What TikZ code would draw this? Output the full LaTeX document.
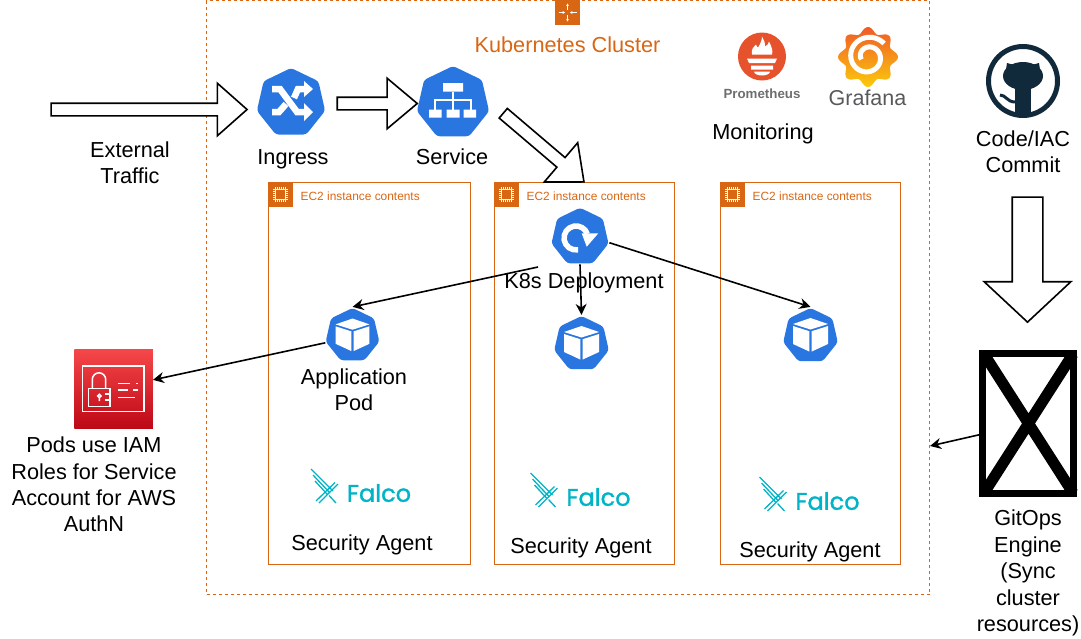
\documentclass[tikz,border=0pt]{standalone}
\usepackage{fontspec}
\setmainfont{Liberation Sans}
\newfontfamily\falcofont[FakeBold=1.3]{Poppins}
\usetikzlibrary{shapes.geometric,shapes.arrows,arrows.meta}
\definecolor{awsorange}{HTML}{D86613}
\definecolor{k8sblue}{HTML}{2A76E0}
\definecolor{falcoteal}{HTML}{00B4C8}
\definecolor{ghnavy}{HTML}{10293B}
\definecolor{promorange}{HTML}{E6522C}
\definecolor{promgray}{HTML}{6D6E70}
\definecolor{grafanatop}{HTML}{F05A28}
\definecolor{grafanabottom}{HTML}{FBCA0A}
\definecolor{grafanagray}{HTML}{58595B}
\definecolor{iamtop}{HTML}{F54749}
\definecolor{iambottom}{HTML}{BD0816}
\newcommand{\bigtext}{\fontsize{21.7}{26.4}\selectfont}
\tikzset{
  label/.style={align=center,font=\bigtext,inner sep=0pt},
  cluster/.style={draw=awsorange,dashed,dash pattern=on 3pt off 3pt,line width=1pt,anchor=north west,inner sep=0pt},
  ec2box/.style={draw=awsorange,line width=1.3pt,anchor=north west,inner sep=0pt},
  ec2label/.style={text=awsorange,font=\fontsize{11.9}{14}\selectfont,anchor=west,inner sep=0pt},
  k8s/.style={regular polygon,regular polygon sides=7,fill=k8sblue,inner sep=0pt,outer sep=1pt,rounded corners=3pt},
  falco/.style={text=falcoteal,font=\falcofont\fontsize{24}{30}\selectfont,inner sep=0pt},
  flow/.style={-{Stealth[length=11pt,width=11pt]},line width=1.6pt},
  blockarrow/.style={single arrow,draw=black,fill=white,line width=1.6pt,inner xsep=0pt,inner ysep=5.5pt,single arrow head indent=0pt},
  cubeglyph/.pic={
    \fill[white] (0,-18) -- (17.5,-12) -- (0,-6.5) -- (-17.5,-12) -- cycle;
    \fill[white] (-17.5,-10) -- (-1.2,-4.8) -- (-1.2,15.5) -- (-17.5,8) -- cycle;
    \fill[white] (17.5,-10) -- (1.2,-4.8) -- (1.2,15.5) -- (17.5,8) -- cycle;
  },
  ec2glyph/.pic={
    \fill[awsorange] (0,0) rectangle (25,25);
    \draw[white,line width=.9pt] (7.5,7.5) rectangle (17.5,17.5);
    \foreach \t in {7,9,...,18}{
      \draw[white,line width=.5pt] (\t,5.2) -- (\t,7.2) (\t,17.8) -- (\t,19.8) (5.2,\t) -- (7.2,\t) (17.8,\t) -- (19.8,\t);
    }
  },
  falcoglyph/.pic={
    \draw[falcoteal,line width=1.3pt]
      (-68,-23) -- (-46,-1) (-66,-17) -- (-49,1) (-64,-11) -- (-52,2)
      (-41,-8) -- (-60,11) (-44,-9.5) -- (-63,9) (-50,3.5) -- (-43,11);
  },
}
\begin{document}
\begin{tikzpicture}[x=1pt,y=-1pt]
\useasboundingbox (0,0) rectangle (1081,638);
\node[cluster,minimum width=723,minimum height=594] (cluster) at (206,0) {};
\node[fill=awsorange,minimum size=25,inner sep=0pt] (clustericon) at (567.5,12.5) {};
\foreach \a in {90,270}{
  \draw[white,line width=.7pt,-{Stealth[length=2.5pt,width=3pt]},shift={(567.5,12.5)},rotate=\a] (2.5,0) -- (9,0);
}
\foreach \a in {0,180}{
  \draw[white,line width=.7pt,-{Stealth[length=2.5pt,width=3pt]},shift={(567.5,12.5)},rotate=\a] (9,0) -- (2.5,0);
}
\node[label,text=awsorange] (clusterlabel) at (567.5,45) {Kubernetes Cluster};

\node[ec2box,minimum width=202,minimum height=382] (ec2a) at (268,182) {};
\node[ec2box,minimum width=180,minimum height=382] (ec2b) at (494,182) {};
\node[ec2box,minimum width=180,minimum height=382] (ec2c) at (720,182) {};
\pic at (268,182) {ec2glyph};
\pic at (494,182) {ec2glyph};
\pic at (720,182) {ec2glyph};
\node[ec2label] (ec2alabel) at (300.5,196) {EC2 instance contents};
\node[ec2label] (ec2blabel) at (526.5,196) {EC2 instance contents};
\node[ec2label] (ec2clabel) at (752.5,196) {EC2 instance contents};

\node[k8s,minimum size=70] (ingress) at (291,103) {};
\draw[white,line width=6.5pt,shift={(291,103)}] (-19,-14) -- (-11,-14) -- (6,9) -- (13,9);
\fill[white,shift={(291,103)}] (13,0) -- (22,9) -- (13,18) -- cycle;
\draw[white,line width=6.5pt,shift={(291,103)}] (-19,9) -- (-12,9) -- (-5,1);
\draw[white,line width=6.5pt,shift={(291,103)}] (3,-5) -- (7,-14) -- (13,-14);
\fill[white,shift={(291,103)}] (13,-22) -- (22,-14) -- (13,-6) -- cycle;
\node[label] (ingresslabel) at (293,159) {Ingress};

\node[k8s,minimum size=74] (service) at (453,103) {};
\begin{scope}[shift={(453,103)}]
\fill[white] (-10,-20) rectangle (10,-11.5) (-24,6.5) rectangle (-11.5,14.5) (-6.5,6.5) rectangle (6.5,14.5) (10.5,6.5) rectangle (23,14.5);
\draw[white,line width=1.6pt] (0,-11.5) -- (0,6.5) (-18,6.5) -- (-18,-3) -- (18,-3) -- (18,6.5);
\end{scope}
\node[label] (servicelabel) at (452,157) {Service};

\node[k8s,minimum size=58.5] (deploy) at (580,237) {};
\begin{scope}[shift={(580,237)}]
\draw[white,line width=5.5pt] (-1.9,12.8) arc (80:340:12);
\fill[white] (1.7,-3.7) -- (18.3,-3.7) -- (6.7,9.7) -- cycle;
\end{scope}
\node[label] (deploylabel) at (584,283) {K8s Deployment};

\node[k8s,minimum size=55] (poda) at (352.5,335.5) {};
\node[k8s,minimum size=56] (podb) at (581.5,344) {};
\node[k8s,minimum size=56] (podc) at (810.5,336) {};
\pic[scale=.97] at (352.5,336) {cubeglyph};
\pic at (581.5,344) {cubeglyph};
\pic at (810.5,336) {cubeglyph};
\node[label] (podlabel) at (354,390) {Application\\Pod};

\node[label] (securitya) at (362,545) {Security Agent};
\node[label] (securityb) at (581,548) {Security Agent};
\node[label] (securityc) at (810,552) {Security Agent};
\node[falco] (falcoa) at (379,493) {Falco};
\node[falco] (falcob) at (598.5,497) {Falco};
\node[falco] (falcoc) at (827.5,501) {Falco};
\pic at (379,492) {falcoglyph};
\pic at (598.5,496) {falcoglyph};
\pic at (827.5,500) {falcoglyph};

\node[circle,fill=promorange,minimum size=48,inner sep=0pt] (prometheus) at (762,56.5) {};
\begin{scope}[shift={(762,56.5)}]
\fill[white] (-10,-2) .. controls (-11,-8) and (-8,-10) .. (-6,-12) .. controls (-5,-10) and (-5,-9) .. (-4,-9) .. controls (-2,-12) and (0,-16) .. (0,-20) .. controls (2,-17) and (3,-14) .. (3,-10) .. controls (5,-11) and (7,-13) .. (7,-15) .. controls (10,-9) and (11,-6) .. (10,-2) -- cycle;
\fill[white] (-15,2) -- (15,2) -- (13,6.5) -- (-13,6.5) -- cycle (-11,9) rectangle (11,13);
\fill[white] (-8,15) -- (8,15) arc (0:180:8 and 4) -- cycle;
\end{scope}
\node[text=promgray,font=\bfseries\fontsize{13.3}{16}\selectfont,inner sep=0pt] (prometheuslabel) at (762,94) {Prometheus};

\node[minimum size=60,inner sep=0pt] (grafana) at (868,57) {};
\shade[top color=grafanatop,bottom color=grafanabottom,shift={(868,57)}] plot[domain=0:356,samples=90,smooth cycle] ({(27+3*cos(8*\x))*cos(\x)},{(27+3*cos(8*\x))*sin(\x)});
\draw[white,line width=5pt,shift={(868,57)}] plot[domain=-40:-560,samples=70,smooth] ({(21-14*(-40-\x)/520)*cos(\x)},{(21-14*(-40-\x)/520)*sin(\x)});
\node[text=grafanagray,font=\fontsize{21.5}{24}\selectfont,inner sep=0pt] (grafanalabel) at (867.5,98) {Grafana};
\node[label] (monitoring) at (763,134) {Monitoring};

\node[circle,draw=ghnavy,line width=5pt,minimum size=69,inner sep=0pt] (github) at (1023,81) {};
\begin{scope}[shift={(1023,81)}]
\fill[ghnavy] (0,-5) ellipse[x radius=20,y radius=14];
\fill[ghnavy] (-16,-18) -- (-5,-15) -- (-18,-5) -- cycle (16,-18) -- (5,-15) -- (18,-5) -- cycle;
\fill[ghnavy] (-8,4) -- (8,4) -- (8,34) -- (-8,34) -- cycle;
\draw[ghnavy,line width=3pt] (-23,14) .. controls (-17,14) and (-16,21) .. (-8,21);
\end{scope}
\node[label] (commitlabel) at (1023,152) {Code/IAC\\Commit};

\node[draw=black,line width=7pt,minimum width=91,minimum height=140,inner sep=0pt] (gitops) at (1028,423.5) {};
\draw[line width=11pt] (984,354) -- (1073,493) (1073,354) -- (984,493);
\node[label] (gitopslabel) at (1028,573) {GitOps\\Engine\\(Sync\\cluster\\resources)};

\node[minimum size=78.5,inner sep=0pt,top color=iamtop,bottom color=iambottom] (iam) at (113.5,389) {};
\begin{scope}[white,line width=1.5pt]
\draw (82.7,366) rectangle (144,411.7);
\draw (88.3,388.3) rectangle (110,406.7);
\draw (92.3,388.3) -- (92.3,379.5) arc (180:360:6.7) -- (105.7,388.3);
\draw (99.3,396) circle[radius=1.7] (99.3,397.7) -- (99.3,401);
\draw (105,394) -- (110,394) (105,400) -- (110,400);
\draw (118,383.3) -- (130,383.3) (136,383.3) -- (138,383.3) (118,390) -- (128,390) (133,390) -- (138,390) (118,397.3) -- (135,397.3);
\end{scope}
\node[label] (iamlabel) at (94,484.5) {Pods use IAM\\Roles for Service\\Account for AWS\\AuthN};

\node[label] (trafficlabel) at (130,162.5) {External\\Traffic};

\node[blockarrow,minimum height=196,minimum width=51,single arrow head extend=20,single arrow tip angle=83] (trafficarrow) at (145.5,109.5) {};
\node[blockarrow,minimum height=80,minimum width=49,single arrow head extend=19,single arrow tip angle=80] (ingressarrow) at (373.5,103.5) {};
\node[blockarrow,minimum height=106,minimum width=50,single arrow head extend=19.5,single arrow tip angle=81,rotate=-40.4] (servicearrow) at (540.8,145.2) {};
\node[blockarrow,inner ysep=14.5pt,minimum height=125,minimum width=85,single arrow head extend=28,single arrow tip angle=94,rotate=-90] (commitarrow) at (1027.5,252.5) {};

\coordinate (deployleft) at (538,267);
\coordinate (gitopsend) at (930,446);
\draw[flow] (deployleft) -- (poda.north);
\draw[flow] (deploy.south) -- (podb.north);
\draw[flow] (deploy.-11) -- (podc.north);
\draw[flow] (poda.195) -- (iam.13);
\draw[flow] (gitops.193) -- (gitopsend);
\end{tikzpicture}
\end{document}
